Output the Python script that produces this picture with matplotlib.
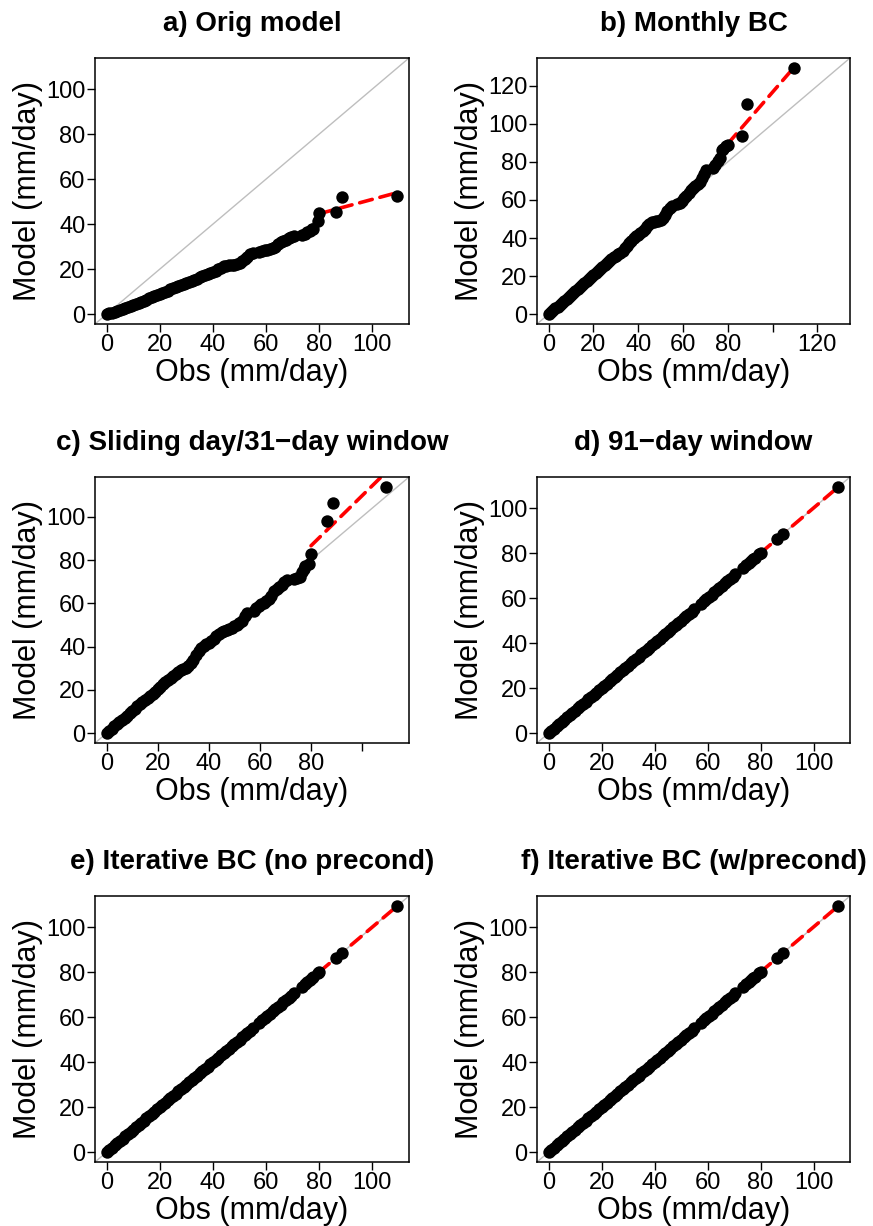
import matplotlib
matplotlib.use('Agg')
import matplotlib.pyplot as plt

# observed precipitation quantiles (mm/day), shared by all panels
obs_q = [0, 1, 2, 3, 4, 5, 6, 7, 8, 9,
         10, 11, 12, 13, 14, 15, 16, 17, 18, 19,
         20, 21, 22, 23, 24, 25, 26, 27, 28, 29,
         30, 31, 32, 33, 34, 35, 36, 37, 38, 39,
         40, 41, 42, 43, 44, 45, 46, 47, 48, 49,
         50, 51, 52, 53, 54, 55,
         57.5, 58.5, 59.5, 60.5, 61.5, 62.5, 63.5, 64.5, 65.5, 66.5,
         67.5, 68.5, 69.5, 70.5,
         73.5, 74.5, 75.5, 76.5, 77.3, 77.8, 79.4, 80.0, 86.2, 88.6, 109.4]

# model quantiles
model_orig = [0.0, 0.3, 0.7, 1.1, 1.5, 1.9, 2.3, 2.8, 3.2, 3.7,
              4.1, 4.6, 5.0, 5.5, 6.0, 6.5, 7.0, 7.5, 8.0, 8.5,
              9.0, 9.5, 10.0, 10.5, 11.0, 11.5, 12.0, 12.5, 13.0, 13.4,
              13.8, 14.2, 14.7, 15.2, 15.8, 16.4, 17.0, 17.5, 18.0, 18.4,
              18.8, 19.3, 19.9, 20.5, 21.2, 21.6, 21.8, 21.9, 22.0, 22.3,
              22.8, 23.6, 24.6, 25.5, 26.5, 27.3,
              27.8, 28.0, 28.3, 28.5, 28.8, 29.2, 30.0, 31.0, 32.0, 32.6,
              33.0, 33.8, 34.4, 34.8,
              35.0, 35.6, 36.3, 37.0, 37.6, 38.0, 41.3, 45.0, 45.3, 52.0, 52.6]

model_monthly = [0.0, 1.0, 2.0, 3.0, 4.0, 5.0, 6.0, 7.0, 8.1, 9.1,
                 10.1, 11.1, 12.1, 13.2, 14.2, 15.2, 16.2, 17.3, 18.3, 19.4,
                 20.5, 21.5, 22.6, 23.7, 24.7, 25.8, 26.9, 28.0, 29.0, 30.0,
                 30.8, 31.5, 32.3, 33.3, 34.5, 35.8, 37.2, 38.6, 40.0, 41.0,
                 41.8, 42.6, 43.6, 44.8, 46.2, 47.6, 48.3, 48.6, 48.9, 49.2,
                 49.6, 50.4, 52.0, 54.0, 55.8, 57.0,
                 57.8, 58.5, 59.6, 60.8, 62.0, 63.8, 65.2, 66.5, 67.5, 68.3,
                 69.5, 71.5, 73.8, 75.5,
                 77.0, 78.5, 80.2, 82.0, 86.0, 87.0, 88.5, 89.0, 93.8, 110.6, 129.4]

model_sliding = [0.0, 1.0, 2.0, 3.1, 4.1, 5.1, 6.1, 7.1, 8.1, 9.1,
                 10.2, 11.3, 12.5, 13.6, 14.6, 15.5, 16.4, 17.3, 18.2, 19.2,
                 20.3, 21.4, 22.5, 23.5, 24.5, 25.4, 26.3, 27.2, 28.1, 29.0,
                 29.7, 30.3, 31.0, 32.2, 34.0, 36.0, 37.8, 39.2, 40.2, 41.0,
                 41.8, 42.6, 43.6, 44.8, 46.0, 46.8, 47.3, 47.7, 48.1, 48.6,
                 49.3, 50.0, 50.8, 52.0, 54.0, 55.5,
                 56.5, 57.6, 58.6, 59.5, 60.3, 61.2, 62.2, 63.5, 65.5, 66.8,
                 67.5, 68.3, 69.8, 70.6,
                 71.2, 71.6, 72.3, 74.6, 76.0, 77.0, 78.2, 82.8, 97.8, 106.3, 113.8]

# panels d-f sit on the 1:1 line, model quantiles equal the obs ones
model_91day = obs_q
model_iter_noprec = obs_q
model_iter_prec = obs_q

# red dashed upper-tail lines (start/end)
tail_x = [80.0, 109.4]
tail_orig = [44.6, 54.0]
tail_monthly = [89.5, 129.4]
tail_sliding = [86.6, 120.6]
tail_bc = [80.0, 109.4]

titles = ['a) Orig model', 'b) Monthly BC', 'c) Sliding day/31\u2212day window',
          'd) 91\u2212day window', 'e) Iterative BC (no precond)',
          'f) Iterative BC (w/precond)']

ticks_100 = [0, 20, 40, 60, 80, 100]
ticks_120 = [0, 20, 40, 60, 80, 100, 120]
xlabels_a = ['0', '20', '40', '60', '80', '100']
xlabels_b = ['0', '20', '40', '60', '80', '', '120']
xlabels_c = ['0', '20', '40', '60', '80', '']
ylabels_100 = ['0', '20', '40', '60', '80', '100']
ylabels_120 = ['0', '20', '40', '60', '80', '100', '120']

FONT = ['Liberation Sans', 'DejaVu Sans']
plt.rcParams['font.family'] = FONT

W, H = 873, 1226
cols = [(95, 314), (537, 313)]
rows = [(58, 266), (477, 266), (896, 266)]


def _make_ax(fig, col, row):
    x0, w = cols[col]
    y0, h = rows[row]
    return fig.add_axes([x0 / W, 1 - (y0 + h) / H, w / W, h / H])


def qq_panel(ax, model, tail_y, title, xticks, xlabels, yticks, ylabels):
    top = max(max(obs_q), max(model))
    lim = (-0.04 * top, top * 1.04)
    ax.set_xlim(lim)
    ax.set_ylim(lim)

    ax.plot(lim, lim, color='#bebebe', lw=1.0, zorder=1)
    ax.plot(tail_x, tail_y, color='red', lw=2.6, ls=(0, (3.6, 2.2)),
            dash_capstyle='round', zorder=2)
    ax.scatter(obs_q, model, s=80, color='black', linewidths=0, zorder=3)

    ax.set_xticks(xticks)
    ax.set_xticklabels(xlabels)
    ax.set_yticks(yticks)
    ax.set_yticklabels(ylabels)
    ax.tick_params(direction='out', length=5.8, width=1.0, labelsize=17,
                   pad=1.2, color='black')
    for sp in ax.spines.values():
        sp.set_linewidth(1.1)

    ax.set_title(title, fontsize=20, fontweight='bold', pad=19.5)
    ax.set_xlabel('Obs (mm/day)', fontsize=22)
    ax.set_ylabel('Model (mm/day)', fontsize=22)
    ax.xaxis.set_label_coords(0.5, -0.128)
    ax.yaxis.set_label_coords(-0.165, 0.5)


fig = plt.figure(figsize=(W / 100, H / 100), dpi=100)

panels = [
    (model_orig, tail_orig, ticks_100, xlabels_a, ticks_100, ylabels_100),
    (model_monthly, tail_monthly, ticks_120, xlabels_b, ticks_120, ylabels_120),
    (model_sliding, tail_sliding, ticks_100, xlabels_c, ticks_100, ylabels_100),
    (model_91day, tail_bc, ticks_100, xlabels_a, ticks_100, ylabels_100),
    (model_iter_noprec, tail_bc, ticks_100, xlabels_a, ticks_100, ylabels_100),
    (model_iter_prec, tail_bc, ticks_100, xlabels_a, ticks_100, ylabels_100),
]

for i, (model, tail_y, xt, xl, yt, yl) in enumerate(panels):
    ax = _make_ax(fig, i % 2, i // 2)
    qq_panel(ax, model, tail_y, titles[i], xt, xl, yt, yl)

fig.savefig('out.png', dpi=100)
plt.close('all')
